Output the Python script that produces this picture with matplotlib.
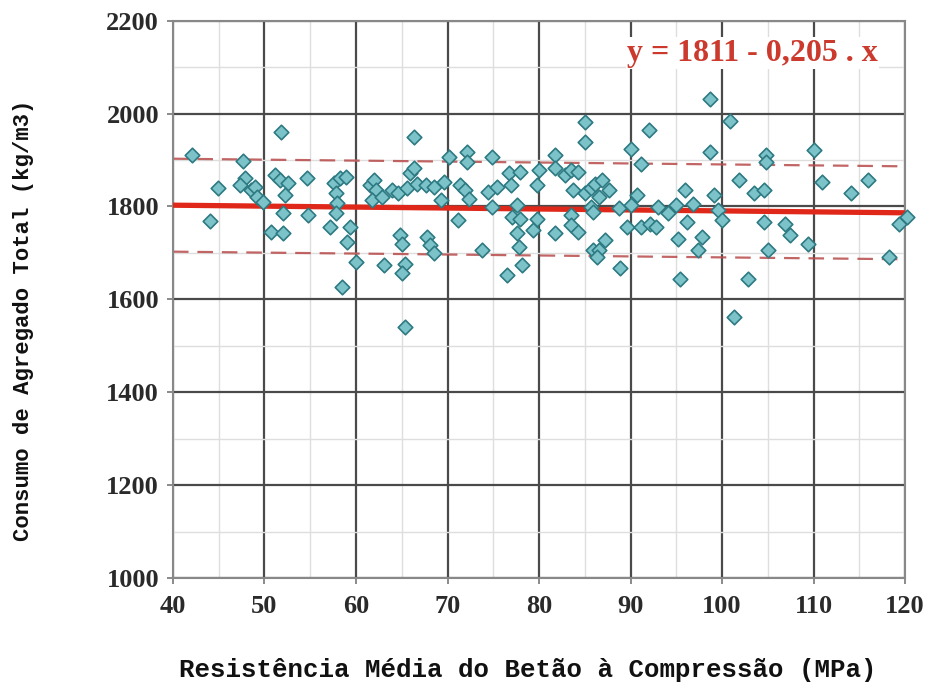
import numpy as np
import matplotlib.pyplot as plt

# Data (x = strength MPa, y = aggregate kg/m3)
resistencia = [
    42.1, 44.1, 44.9, 47.6, 47.9, 47.3, 48.5, 49.0, 49.2, 49.8,
    51.8, 51.1, 51.7, 52.6, 52.2, 52.0, 50.7, 52.0, 54.6, 54.8,
    57.6, 58.3, 58.9, 57.8, 57.9, 57.8, 57.2, 59.3, 59.0, 60.0,
    58.5, 61.5, 62.0, 62.2, 61.7, 62.8, 63.9, 64.6, 65.6, 65.9,
    66.3, 66.7, 66.3, 67.6, 68.5, 69.3, 69.6, 70.2, 64.8, 65.0,
    63.1, 65.4, 65.0, 65.4, 67.8, 68.1, 68.5, 71.1, 72.1, 72.1,
    74.9, 71.4, 71.9, 72.3, 73.8, 74.4, 75.4, 74.9, 76.7, 76.9,
    77.9, 77.6, 77.0, 77.9, 77.6, 77.8, 78.1, 76.5, 79.3, 79.8,
    80.0, 79.8, 81.7, 81.7, 81.7, 82.8, 83.5, 83.7, 84.3, 85.0,
    85.0, 83.5, 83.5, 84.3, 85.0, 85.7, 85.9, 85.7, 98.7, 92.0,
    90.0, 91.1, 98.7, 100.9, 86.1, 86.9, 87.6, 86.5, 85.9, 88.7,
    90.0, 90.7, 93.0, 94.1, 95.0, 95.9, 96.8, 96.2, 99.1, 99.6,
    100.0, 89.6, 91.1, 92.1, 92.8, 95.2, 97.8, 97.4, 87.2, 86.5,
    86.3, 88.9, 95.4, 101.3, 104.8, 104.8, 110.0, 101.9, 103.5, 104.6,
    110.9, 114.1, 115.9, 104.6, 106.9, 107.4, 109.4, 105.0, 102.8, 120.2,
    119.3, 118.2,
]
consumo = [
    1910, 1768, 1839, 1898, 1861, 1846, 1835, 1842, 1821, 1810,
    1960, 1867, 1857, 1850, 1824, 1786, 1745, 1743, 1861, 1781,
    1850, 1861, 1864, 1828, 1807, 1786, 1756, 1756, 1724, 1681,
    1627, 1846, 1857, 1835, 1814, 1821, 1835, 1828, 1839, 1871,
    1882, 1849, 1950, 1846, 1842, 1814, 1853, 1907, 1738, 1720,
    1674, 1677, 1656, 1541, 1735, 1717, 1699, 1771, 1917, 1896,
    1907, 1846, 1835, 1817, 1706, 1831, 1842, 1799, 1871, 1846,
    1874, 1803, 1778, 1774, 1742, 1713, 1674, 1652, 1749, 1774,
    1878, 1846, 1910, 1882, 1742, 1867, 1878, 1835, 1874, 1982,
    1939, 1781, 1760, 1745, 1828, 1799, 1706, 1839, 2032, 1964,
    1923, 1892, 1917, 1984, 1849, 1857, 1835, 1821, 1788, 1796,
    1803, 1824, 1799, 1785, 1803, 1835, 1806, 1767, 1824, 1792,
    1771, 1756, 1756, 1763, 1756, 1731, 1735, 1706, 1728, 1706,
    1692, 1667, 1645, 1563, 1910, 1896, 1921, 1857, 1828, 1835,
    1853, 1828, 1857, 1767, 1763, 1738, 1720, 1706, 1645, 1778,
    1763, 1692,
]

# regression y = 1811 - 0.205 x, band +/- 100
intercepto = 1811
declive = -0.205
banda = 100

fig = plt.figure(figsize=(9.32, 6.86), dpi=100)
ax = fig.add_axes([0.1856, 0.157, 0.7855, 0.813])

ax.set_xlim(40, 120)
ax.set_ylim(1000, 2200)
ax.set_xticks(np.arange(40, 121, 10))
ax.set_yticks(np.arange(1000, 2201, 200))
ax.set_xticks(np.arange(40, 121, 5), minor=True)
ax.set_yticks(np.arange(1000, 2201, 100), minor=True)
ax.grid(which="major", color="#4a4a4a", linewidth=1.6, zorder=0)
ax.grid(which="minor", color="#dedede", linewidth=1.0, zorder=0)
ax.set_axisbelow(True)
ax.tick_params(which="minor", length=0)
ax.tick_params(which="major", length=4, color="#777777", width=1.2)
ax.tick_params(axis="x", pad=8)
ax.tick_params(axis="y", pad=6)
for s in ax.spines.values():
    s.set_color("#888888")
    s.set_linewidth(1.5)

for lab in ax.get_xticklabels() + ax.get_yticklabels():
    lab.set_fontfamily("Liberation Serif")
    lab.set_fontweight("bold")
    lab.set_fontsize(19)
    lab.set_color("#2a2a2a")

xr = np.array([40, 120])
yr = intercepto + declive * xr
ax.plot(xr, yr + banda, color="#b84a4a", linewidth=1.6, dashes=(7, 4), alpha=0.85, zorder=2)
ax.plot(xr, yr - banda, color="#b84a4a", linewidth=1.6, dashes=(7, 4), alpha=0.85, zorder=2)
ax.plot(xr, yr, color="#e0281a", linewidth=3.8, zorder=3)

ax.scatter(resistencia, consumo, marker="D", s=55, facecolor="#7cc3c9",
           edgecolor="#2e7a82", linewidth=1.2, zorder=4, clip_on=False)

ax.text(103.3, 2130, "y = 1811 - 0,205 . x", color="#cc3a2e", fontsize=23,
        fontfamily="Liberation Serif", fontweight="bold", ha="center", va="center",
        bbox=dict(facecolor="white", edgecolor="none", pad=1))

ax.set_xlabel("Resistência Média do Betão à Compressão (MPa)", fontfamily="Liberation Mono",
              fontsize=18.5, fontweight="bold", color="#111111")
ax.set_ylabel("Consumo de Agregado Total (kg/m3)", fontfamily="Liberation Mono",
              fontsize=16, fontweight="bold", color="#111111")
ax.xaxis.set_label_coords(0.484, -0.143)
ax.yaxis.set_label_coords(-0.19, 0.463)

fig.savefig("out.png", dpi=100)
